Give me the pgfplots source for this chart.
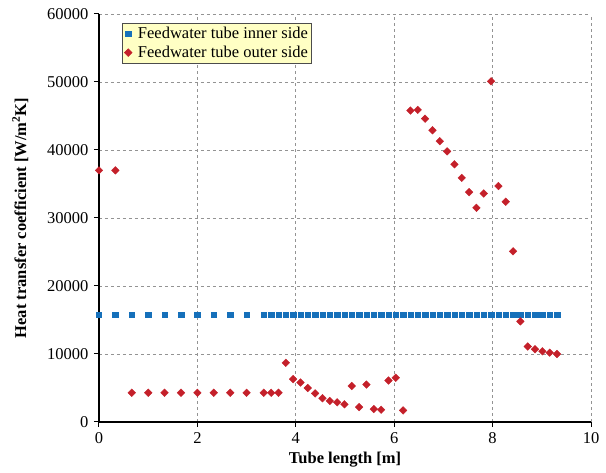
\documentclass[border=0pt]{standalone}
\usepackage{fontspec}
\setmainfont{Liberation Serif}
\usepackage{pgfplots}
\pgfplotsset{compat=1.18}
\definecolor{blueM}{RGB}{22,112,186}
\definecolor{redM}{RGB}{196,32,42}
\definecolor{legfill}{RGB}{255,255,196}
\newcommand{\fs}{\fontsize{16.5}{19}\selectfont}
\begin{document}
\fs
\begin{tikzpicture}
\useasboundingbox (-99pt,-51pt) rectangle (507pt,422pt);
\begin{axis}[
  at={(0,0)}, anchor=south west,
  scale only axis, width=492pt, height=408pt,
  xmin=0, xmax=10, ymin=0, ymax=60000,
  xtick={0,2,...,10}, ytick={0,10000,...,60000},
  scaled y ticks=false,
  /pgf/number format/assume math mode=true,
  yticklabel style={/pgf/number format/1000 sep={}},
  ticklabel style={font=\fs},
  axis x line*=bottom, axis y line*=left,
  tick align=outside,
  major tick length=5pt,
  grid=major,
  grid style={gray!85, line width=0.8pt, dash pattern=on 3pt off 3pt},
  axis line style={line width=1.5pt},
  tick style={black, line width=1pt},
  clip=false,
  xlabel={\textbf{Tube length [m]}},
  ylabel={\textbf{Heat transfer coefficient [W/m\textsuperscript{2}K]}},
  xlabel style={at={(axis description cs:0.5,-0.093)}, anchor=center, font=\fs},
  ylabel style={at={(axis description cs:-0.16,0.5)}, anchor=center, font=\fs},
  legend style={at={(axis description cs:0.047,0.978)}, anchor=north west,
    fill=legfill, draw=gray!60!black, line width=0.6pt,
    font=\fs, inner xsep=2pt, inner ysep=2pt, row sep=2pt,
    nodes={inner sep=1.5pt}},
  legend image code/.code={\path[draw=none, fill=none] (0,0) -- (0.42cm,0); \draw[#1] plot coordinates {(0.13cm,0cm)};},
  legend cell align=left,
]
\addplot[only marks, mark=square*, mark size=2.7pt, color=blueM, mark options={draw=blueM, fill=blueM}] coordinates {
(0,15800)(0.333,15800)(0.667,15800)(1,15800)(1.333,15800)(1.667,15800)(2,15800)(2.333,15800)(2.667,15800)(3,15800)
(3.350,15800)(3.499,15800)(3.648,15800)(3.797,15800)(3.946,15800)(4.095,15800)(4.244,15800)(4.393,15800)(4.542,15800)(4.691,15800)
(4.840,15800)(4.989,15800)(5.138,15800)(5.287,15800)(5.436,15800)(5.585,15800)(5.734,15800)(5.883,15800)(6.032,15800)(6.181,15800)
(6.330,15800)(6.479,15800)(6.628,15800)(6.777,15800)(6.926,15800)(7.075,15800)(7.224,15800)(7.373,15800)(7.522,15800)(7.671,15800)
(7.820,15800)(7.969,15800)(8.118,15800)(8.267,15800)(8.416,15800)(8.565,15800)(8.714,15800)(8.863,15800)(9.012,15800)(9.161,15800)
(9.310,15800)
};
\addlegendentry{Feedwater tube inner side}
\addplot[only marks, mark=square*, mark size=2.7pt, color=redM, mark options={draw=redM, fill=redM, rotate=45}] coordinates {
(0,37000)(0.333,37000)(0.667,4300)(1,4300)(1.333,4300)(1.667,4300)(2,4300)(2.333,4300)(2.667,4300)(3,4300)
(3.350,4300)(3.499,4300)(3.648,4300)(3.797,8700)(3.946,6300)(4.095,5800)(4.244,5000)(4.393,4200)(4.542,3500)(4.691,3100)
(4.840,2900)(4.989,2600)(5.138,5300)(5.287,2200)(5.436,5500)(5.585,1900)(5.734,1800)(5.883,6100)(6.032,6500)(6.181,1700)
(6.330,45800)(6.479,45900)(6.628,44600)(6.777,42900)(6.926,41300)(7.075,39800)(7.224,37900)(7.373,35900)(7.522,33800)(7.671,31500)
(7.820,33600)(7.969,50100)(8.118,34700)(8.267,32400)(8.416,25100)(8.565,14800)(8.714,11100)(8.863,10700)(9.012,10400)(9.161,10200)
(9.310,10000)
};
\addlegendentry{Feedwater tube outer side}
\end{axis}
\end{tikzpicture}
\end{document}
